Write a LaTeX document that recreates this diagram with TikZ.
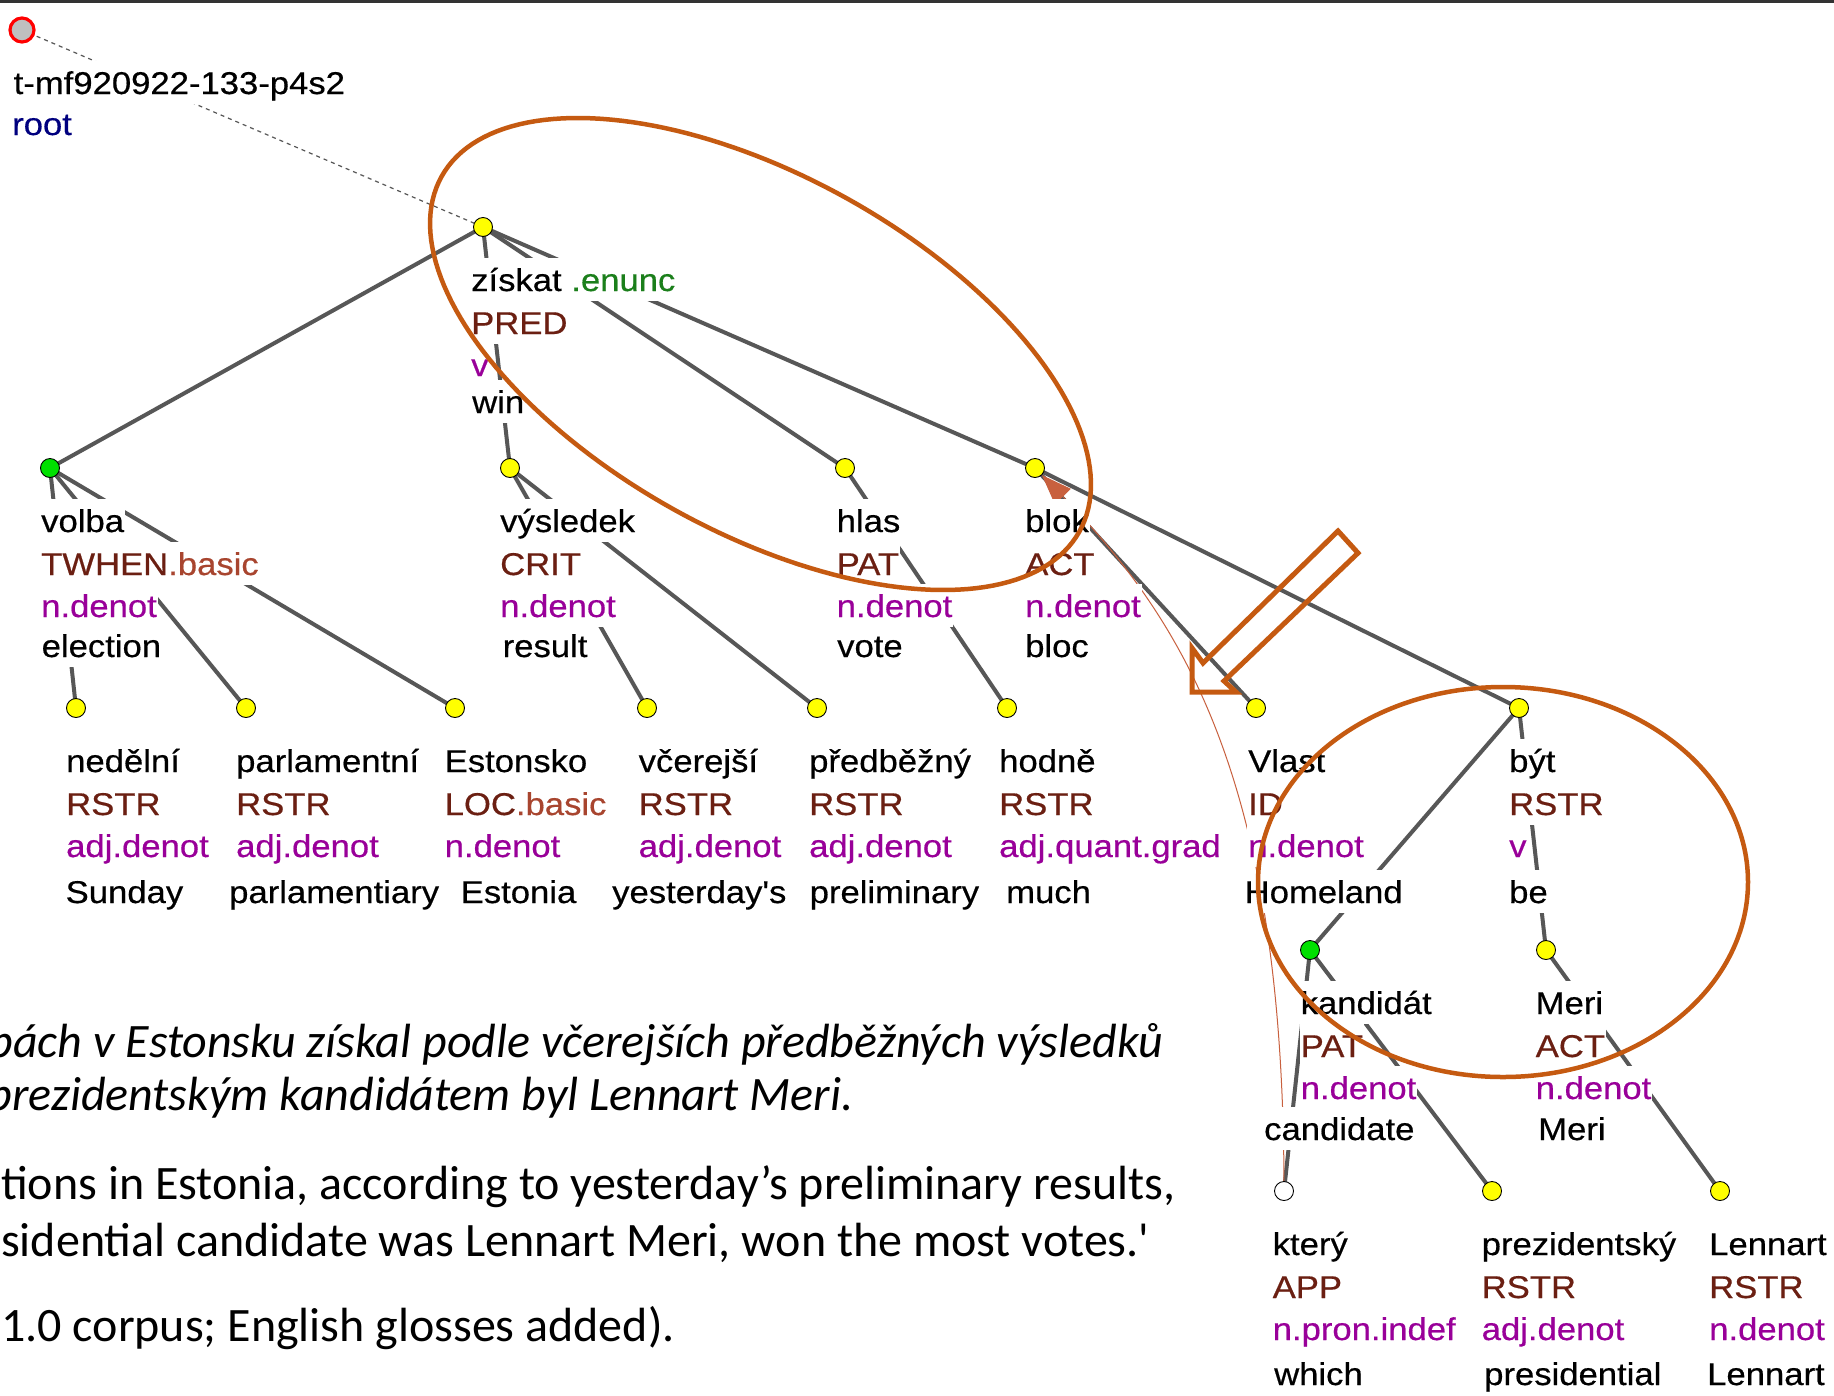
\documentclass[tikz,border=0pt]{standalone}
\usepackage{fontspec}
\setmainfont{Liberation Sans}
\newfontfamily\treefont[FakeStretch=1.1,FakeBold=0.5,Ligatures=TeXOff]{Liberation Sans}
\newfontfamily\capfont[Ligatures=TeXOff]{Carlito}
\usetikzlibrary{arrows.meta}

\definecolor{edgegray}{HTML}{575757}
\definecolor{annot}{HTML}{C55A11}
\definecolor{functor}{HTML}{6B1F12}
\definecolor{subfunctor}{HTML}{A8452F}
\definecolor{semtype}{HTML}{990099}
\definecolor{enunc}{HTML}{1B7F1B}
\definecolor{rootblue}{HTML}{00007F}
\definecolor{coref}{HTML}{C8603E}
\definecolor{nodeyellow}{HTML}{FFFF00}
\definecolor{nodegreen}{HTML}{00E000}

\pgfdeclarelayer{canvas}
\pgfdeclarelayer{edges}
\pgfsetlayers{canvas,edges,main}

\tikzset{
  treetext/.style={font=\treefont\fontsize{31.5pt}{38pt}\selectfont},
  lbl/.style={treetext, fill=white, inner xsep=1pt, inner ysep=0pt,
    text height=33pt, text depth=9.5pt, anchor=base west},
  captext/.style={font=\capfont\fontsize{48pt}{58pt}\selectfont,
    inner sep=0pt, anchor=base west},
  capital/.style={captext, font=\capfont\itshape\fontsize{48pt}{58pt}\selectfont},
  tnode/.style={circle, draw=black, line width=0.9pt, fill=nodeyellow,
    minimum size=19pt, inner sep=0pt},
  gnode/.style={tnode, fill=nodegreen},
  wnode/.style={tnode, fill=white},
  edge/.style={draw=edgegray, line width=4pt},
  annotline/.style={draw=annot, line width=4.5pt},
}

\newcommand\subf[1]{\textcolor{subfunctor}{#1}}
% one tree node label: word, functor, semantic type and gloss
\newcommand\tblock[9]{%
  \node[lbl] (#1-w) at (#2,#3+64) {#4};
  \node[lbl,text=functor] (#1-f) at (#2,#3+107) {#5};
  \node[lbl,text=semtype] (#1-t) at (#2,#3+149) {#6};
  \node[lbl] (#1-g) at (#7,#3+#8) {#9};}

\begin{document}
\begin{tikzpicture}[x=1pt,y=-1pt]
\useasboundingbox (0,0) rectangle (1834,1395);
\begin{pgfonlayer}{canvas}
  \fill[white] (0,0) rectangle (1834,1395);
  \fill[black!80] (0,0) rectangle (1834,2.5);
\end{pgfonlayer}

% labels
\node[lbl] (rootid) at (12.5,94) {t-mf920922-133-p4s2};
\node[lbl,text=rootblue] (rootlbl) at (11,135) {root};

\tblock{zis}{470}{227}{získat\ \textcolor{enunc}{.enunc}}{PRED}{v}{471}{186}{win}
\tblock{volba}{40}{468}{volba}{TWHEN\subf{.basic}}{n.denot}{40.5}{189}{election}
\tblock{vysl}{499}{468}{výsledek}{CRIT}{n.denot}{501.5}{189}{result}
\tblock{hlas}{835.5}{468}{hlas}{PAT}{n.denot}{836}{189}{vote}
\tblock{blok}{1024}{468}{blok}{ACT}{n.denot}{1024}{189}{bloc}
\tblock{nedel}{65}{708}{nedělní}{RSTR}{adj.denot}{64.5}{195}{Sunday}
\tblock{parl}{235}{708}{parlamentní}{RSTR}{adj.denot}{228}{195}{parlamentiary}
\tblock{eston}{443.5}{708}{Estonsko}{LOC\subf{.basic}}{n.denot}{459.5}{195}{Estonia}
\tblock{vcer}{637.5}{708}{včerejší}{RSTR}{adj.denot}{611}{195}{yesterday's}
\tblock{predb}{808}{708}{předběžný}{RSTR}{adj.denot}{808.5}{195}{preliminary}
\tblock{hodne}{998}{708}{hodně}{RSTR}{adj.quant.grad}{1005}{195}{much}
\tblock{vlast}{1247}{708}{Vlast}{ID}{n.denot}{1243.5}{195}{Homeland}
\tblock{byt}{1508}{708}{být}{RSTR}{v}{1508}{195}{be}
\tblock{kand}{1299.5}{950}{kandidát}{PAT}{n.denot}{1263}{190}{candidate}
\tblock{meri}{1534.5}{950}{Meri}{ACT}{n.denot}{1537}{190}{Meri}
\tblock{ktery}{1271.5}{1191}{který}{APP}{n.pron.indef}{1273}{194}{which}
\tblock{prez}{1480.5}{1191}{prezidentský}{RSTR}{adj.denot}{1483}{194}{presidential}
\tblock{lenn}{1708}{1191}{Lennart}{RSTR}{n.denot}{1706}{194}{Lennart}

% tree nodes
\node[circle, draw=red, line width=3.2pt, fill=black!25, minimum size=24pt,
  inner sep=0pt] (root) at (22,30) {};
\node[tnode] (zis) at (483,227) {};
\node[gnode] (volba) at (50,468) {};
\node[tnode] (vysl) at (510,468) {};
\node[tnode] (hlas) at (845,468) {};
\node[tnode] (blok) at (1035,468) {};
\node[tnode] (nedel) at (76,708) {};
\node[tnode] (parl) at (246,708) {};
\node[tnode] (eston) at (455,708) {};
\node[tnode] (vcer) at (647,708) {};
\node[tnode] (predb) at (817,708) {};
\node[tnode] (hodne) at (1007,708) {};
\node[tnode] (vlast) at (1256,708) {};
\node[tnode] (byt) at (1519,708) {};
\node[gnode] (kand) at (1310,950) {};
\node[tnode] (meri) at (1546,950) {};
\node[wnode] (ktery) at (1284,1191) {};
\node[tnode] (prez) at (1492,1191) {};
\node[tnode] (lenn) at (1720,1191) {};

% edges, drawn underneath labels and nodes
\begin{pgfonlayer}{edges}
  \draw[edgegray, line width=1.2pt, dash pattern=on 4pt off 4pt]
    (root.center) -- (zis.center);
  \foreach \a/\b in {zis/volba, zis/vysl, zis/hlas, zis/blok,
      volba/nedel, volba/parl, volba/eston, vysl/vcer, vysl/predb,
      hlas/hodne, blok/vlast, blok/byt, byt/kand, byt/meri,
      kand/ktery, kand/prez, meri/lenn}
    \draw[edge] (\a.center) -- (\b.center);
  % coreference arrow
  \draw[coref, line width=1pt, -{Triangle[length=30pt,width=22pt]}]
    (ktery.center) .. controls (1284,791) and (1190,627) .. (blok);
\end{pgfonlayer}

% sentence and translation
\node[capital] (cz1) at (13,1057)
  {\llap{b}ách v Estonsku získal podle včerejších předběžných výsledků};
\node[capital] (cz2) at (12,1110)
  {\llap{p}rezidentským kandidátem byl Lennart Meri.};
\node[captext] (en1) at (1,1199) {tions in Estonia, according to yesterday’s preliminary results,};
\node[captext] (en2) at (1,1256) {sidential candidate was Lennart Meri, won the most votes.'};
\node[captext] (src) at (1,1341) {1.0 corpus; English glosses added).};

% highlighting
\draw[annotline, line join=round] plot[domain=0:360, samples=181, variable=\t]
  ({760.5 + 365*cos(\t)*cos(29.1) - 178*sin(\t)*sin(29.1)},
   {354 + 365*cos(\t)*sin(29.1) + 178*sin(\t)*cos(29.1)}) -- cycle;
\draw[annotline] (1503,882) ellipse [x radius=245, y radius=195];
\draw[annotline, line width=5pt, line join=miter]
  (1338,531) -- (1358,553) -- (1224,681) -- (1236,692) -- (1192,692)
  -- (1192,648) -- (1203,663) -- cycle;
\end{tikzpicture}
\end{document}
